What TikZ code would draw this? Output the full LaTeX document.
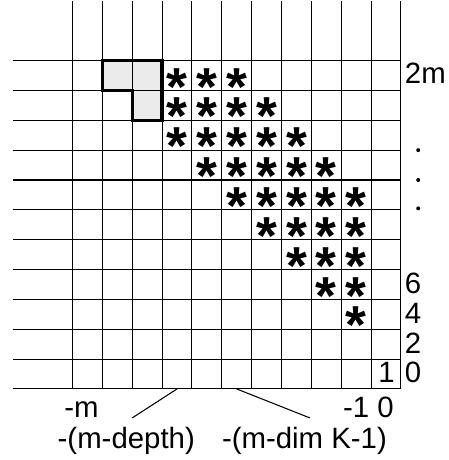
\documentclass[tikz,border=0pt]{standalone}
\usepackage{fontspec}
\setmainfont{Liberation Sans}
\usetikzlibrary{positioning}

\begin{document}
\begin{tikzpicture}[
  grid/.style={line width=1pt},
  hole/.style={fill=black!8},
  rim/.style={line width=3.2pt, line join=miter},
  star/.style={font=\fontsize{51}{51}\selectfont\bfseries, inner sep=0pt, anchor=base},
  lab/.style={font=\fontsize{28}{30}\selectfont, inner sep=0pt},
  dot/.style={circle, fill, inner sep=0pt, minimum size=3.8pt},
  link/.style={line width=1pt}
]
\useasboundingbox (-13.43,-2.38) rectangle (1.58,13.03);

% shaded cells
\fill[hole] (-10,10) rectangle (-8,11);
\fill[hole] (-9,9) rectangle (-8,10);

% grid
\foreach \i in {0,...,11} {
  \draw[grid] (-13,\i) -- (0,\i);
  \draw[grid] (-\i,0) -- (-\i,13);
}

% thick outline round the shaded cells
\draw[rim] (-10,11) -- (-8,11) -- (-8,9) -- (-9,9) -- (-9,10) -- (-10,10) -- cycle;

% stars: row / first column / last column
\foreach \r/\a/\b in {10/-8/-6, 9/-8/-5, 8/-8/-4, 7/-7/-3, 6/-6/-2,
                      5/-5/-2, 4/-4/-2, 3/-3/-2, 2/-2/-2}
  \foreach \c in {\a,...,\b}
    \node[star] (st\r x\c) at (\c+0.5,\r+0.5-0.99) {*};

% right-hand labels
\node[lab, anchor=base west] (twom) at (0.13,10.22) {2m};
\node[dot] (dta) at (0.58,8.0) {};
\node[dot] (dtb) at (0.58,7.0) {};
\node[dot] (dtc) at (0.58,6.05) {};
\node[lab, anchor=base west] (six) at (0.13,3.2) {6};
\node[lab, anchor=base west] (four) at (0.13,2.2) {4};
\node[lab, anchor=base west] (two) at (0.13,1.2) {2};
\node[lab, anchor=base west] (zero) at (0.13,0.2) {0};
\node[lab, anchor=base east] (one) at (-0.2,0.2) {1};

% bottom labels
\node[lab, anchor=base] (mlo) at (-10.7,-0.97) {-m};
\node[lab, anchor=base east] (mhi) at (-0.23,-0.97) {-1 0};
\node[lab, anchor=base] (depth) at (-9.2,-1.98) {-(m-depth)};
\node[lab, anchor=base] (dimk) at (-3.23,-1.98) {-(m-dim K-1)};

\coordinate (dfoot) at (-7.5,0);
\coordinate (dtip) at (-9.0,-0.97);
\coordinate (kfoot) at (-5.5,0);
\coordinate (ktip) at (-3.05,-0.97);
\draw[link] (dfoot) -- (dtip);
\draw[link] (kfoot) -- (ktip);
\end{tikzpicture}
\end{document}
